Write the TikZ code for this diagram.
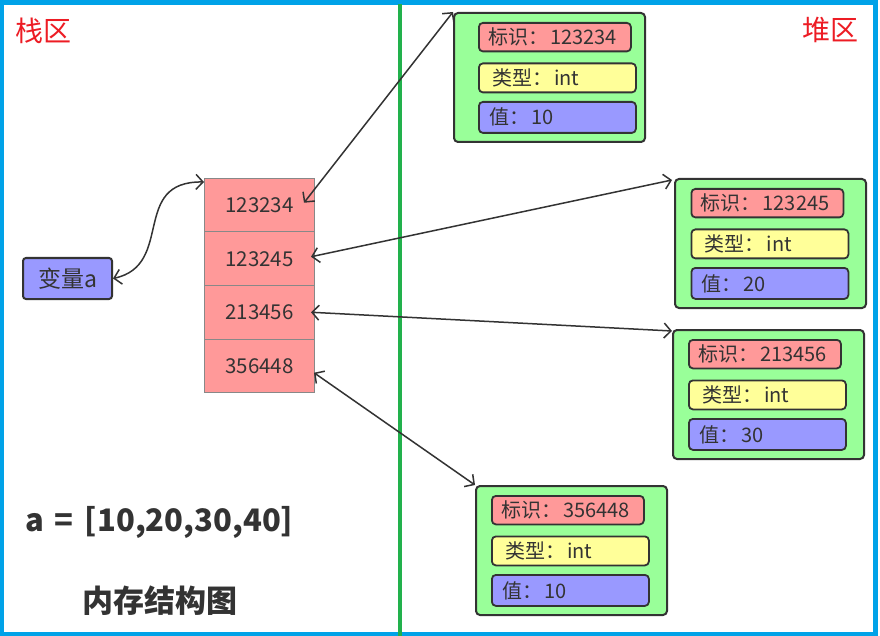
\documentclass[tikz,border=0pt]{standalone}
\usepackage{fontspec}
\setmainfont{Noto Sans CJK SC}
\usetikzlibrary{arrows.meta,calc}
\definecolor{frameblue}{HTML}{00A2E8}
\definecolor{divgreen}{HTML}{22B14C}
\definecolor{titlered}{HTML}{ED1C24}
\definecolor{dark}{HTML}{333333}
\definecolor{stackgray}{HTML}{888888}
\definecolor{cellred}{HTML}{FF9999}
\definecolor{heapgreen}{HTML}{99FF99}
\definecolor{fieldyellow}{HTML}{FFFF99}
\definecolor{fieldblue}{HTML}{9999FF}
\newcommand\fsz[1]{\fontsize{#1pt}{#1pt}\selectfont}
\newcommand\heapbox[6]{%
  \node[heapbox] (#1) at (#2,#3) {};
  \node[field, fill=cellred, minimum width=152pt, minimum height=28.5pt] (#1-id) at ($(#1.north west)+(#4,10)$) {};
  \node[field, fill=fieldyellow, minimum width=157pt, minimum height=29pt] (#1-ty) at ($(#1.north west)+(#4,50.5)$) {};
  \node[field, fill=fieldblue, minimum width=157pt, minimum height=31pt] (#1-va) at ($(#1.north west)+(#4,89)$) {};
  \node[lbl] (#1-idt) at ($(#1-id.west)+(10,0)$) {标识：\hspace{2pt}#5};
  \node[lbl] (#1-tyt) at ($(#1-ty.west)+(14,0)$) {类型：\hspace{2pt}int};
  \node[lbl] (#1-vat) at ($(#1-va.west)+(11,0)$) {值：\hspace{2pt}#6};
}
\begin{document}
\begin{tikzpicture}[x=1pt,y=-1pt,
  heapbox/.style={draw=dark, fill=heapgreen, rounded corners=4pt, line width=2pt,
    anchor=north west, inner sep=0pt, minimum width=191pt, minimum height=129pt},
  field/.style={draw=dark, rounded corners=4pt, line width=1.8pt, anchor=north west, inner sep=0pt},
  lbl/.style={anchor=west, inner sep=0pt, text=dark, font=\fsz{20}},
  cell/.style={draw=stackgray, fill=cellred, line width=1pt, anchor=north west, inner sep=0pt,
    minimum width=110pt, minimum height=53.5pt, text=dark, font=\fsz{20.5}},
  conn/.style={draw=dark, line width=1.5pt, {Straight Barb[length=7pt,width=15pt]}-{Straight Barb[length=7pt,width=15pt]}},
  title/.style={text=titlered, inner sep=0pt, font=\fsz{28}}
]
\useasboundingbox (0,0) rectangle (880,636);
\fill[white] (0,0) rectangle (880,636);
% frame
\draw[frameblue, line width=4.5pt] (2,2.5) rectangle (875.5,633.8);
\draw[divgreen, line width=3.5pt] (400,4.5) -- (400,636);
% titles
\node[title, anchor=west] (stacktitle) at (15,31) {栈区};
\node[title, anchor=west] (heaptitle) at (802,30) {堆区};
% stack cells
\node[cell] (r1) at (204,178) {123234};
\node[cell] (r2) at (204,231.5) {123245};
\node[cell] (r3) at (204,285) {213456};
\node[cell] (r4) at (204,338.5) {356448};
% variable
\node[draw=dark, fill=fieldblue, rounded corners=3pt, line width=2pt, anchor=north west,
  minimum width=89pt, minimum height=41pt, inner sep=0pt, text=dark, font=\fsz{23}] (va) at (22,257) {变量a};
% heap boxes
\heapbox{h1}{453}{12}{25}{123234}{10}
\heapbox{h2}{674}{178}{16.5}{123245}{20}
\heapbox{h3}{672}{329}{16}{213456}{30}
\heapbox{h4}{475}{485}{16}{356448}{10}
% connectors
\draw[conn] (va.east) .. controls (175,265) and (130,181) .. ($(r1.north west)+(0,4)$);
\draw[conn] ($(r1.east)+(-11,-2.5)$) -- (h1.north west);
\draw[conn] ($(r2.east)+(-4,-2)$) -- ($(h2.north west)+(-2,2)$);
\draw[conn] ($(r3.east)+(-4,0)$) -- ($(h3.north west)+(0,2)$);
\draw[conn] ($(r4.east)+(-1,7)$) -- (h4.north west);
% bottom texts
\node[anchor=west, inner sep=0pt, text=dark, font=\fsz{31}\bfseries] (expr) at (25,522) {a\hspace{11pt}=\hspace{11pt}[10,20,30,40]};
\node[anchor=west, inner sep=0pt, text=dark, font=\fsz{31}\bfseries] (caption) at (82,601) {内存结构图};
\end{tikzpicture}
\end{document}
